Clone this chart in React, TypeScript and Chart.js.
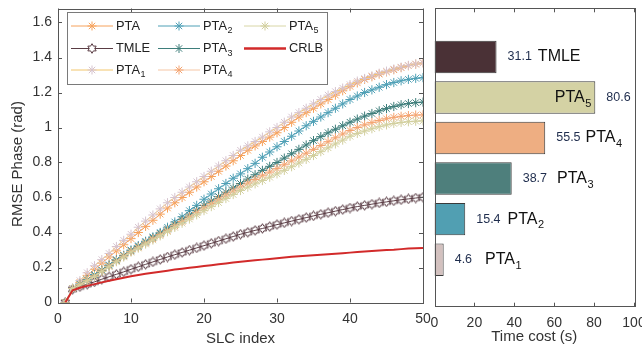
import React, { useEffect, useRef } from 'react';
import { Chart, registerables } from 'chart.js';
Chart.register(...registerables);

const FONT = '"Liberation Sans", Arial, Helvetica, sans-serif';

// ---------- data: left chart ----------
const slcIndex = [1,2,3,4,5,6,7,8,9,10,11,12,13,14,15,16,17,18,19,20,21,22,23,24,25,26,27,28,29,30,31,32,33,34,35,36,37,38,39,40,41,42,43,44,45,46,47,48,49,50];
const pta = [0,0.08,0.115,0.155,0.19,0.225,0.26,0.295,0.33,0.365,0.40,0.435,0.47,0.505,0.54,0.57,0.60,0.63,0.66,0.69,0.72,0.75,0.78,0.81,0.84,0.87,0.895,0.92,0.945,0.97,1.0,1.03,1.06,1.085,1.11,1.135,1.16,1.185,1.21,1.235,1.255,1.275,1.29,1.305,1.318,1.33,1.342,1.353,1.362,1.37];
const tmle = [0,0.075,0.09,0.104,0.118,0.133,0.147,0.161,0.175,0.19,0.204,0.218,0.232,0.246,0.26,0.273,0.286,0.299,0.312,0.325,0.338,0.351,0.364,0.377,0.39,0.401,0.412,0.423,0.434,0.445,0.455,0.465,0.475,0.485,0.495,0.504,0.513,0.522,0.531,0.54,0.548,0.555,0.562,0.569,0.575,0.581,0.587,0.592,0.597,0.602];
const pta1 = [0,0.08,0.125,0.17,0.21,0.245,0.28,0.32,0.355,0.39,0.43,0.465,0.50,0.535,0.57,0.60,0.63,0.66,0.69,0.72,0.75,0.78,0.81,0.84,0.87,0.895,0.92,0.945,0.975,1.0,1.03,1.06,1.085,1.11,1.135,1.16,1.185,1.205,1.225,1.245,1.265,1.28,1.295,1.31,1.322,1.334,1.345,1.355,1.363,1.37];
const pta2 = [0,0.08,0.105,0.13,0.16,0.185,0.215,0.245,0.27,0.30,0.325,0.35,0.375,0.40,0.43,0.46,0.49,0.525,0.555,0.59,0.62,0.65,0.68,0.71,0.735,0.765,0.795,0.83,0.86,0.89,0.92,0.95,0.98,1.01,1.035,1.06,1.085,1.11,1.135,1.16,1.18,1.20,1.215,1.23,1.245,1.257,1.267,1.275,1.281,1.285];
const pta3 = [0,0.08,0.103,0.128,0.155,0.183,0.21,0.24,0.268,0.295,0.32,0.345,0.37,0.395,0.42,0.447,0.473,0.50,0.527,0.555,0.58,0.605,0.63,0.655,0.68,0.705,0.73,0.755,0.778,0.80,0.825,0.85,0.875,0.90,0.925,0.948,0.97,0.99,1.01,1.03,1.048,1.065,1.08,1.095,1.108,1.12,1.13,1.137,1.142,1.145];
const pta4 = [0,0.08,0.102,0.126,0.152,0.18,0.208,0.237,0.265,0.292,0.316,0.34,0.364,0.388,0.413,0.438,0.463,0.489,0.515,0.54,0.565,0.59,0.614,0.637,0.66,0.682,0.703,0.724,0.745,0.765,0.787,0.809,0.831,0.853,0.875,0.897,0.919,0.941,0.963,0.983,1.0,1.015,1.028,1.04,1.05,1.058,1.064,1.068,1.071,1.072];
const pta5 = [0,0.08,0.101,0.124,0.15,0.178,0.205,0.233,0.26,0.288,0.311,0.334,0.357,0.381,0.405,0.429,0.453,0.477,0.501,0.525,0.548,0.571,0.594,0.617,0.64,0.659,0.678,0.697,0.716,0.735,0.755,0.776,0.797,0.818,0.84,0.862,0.884,0.906,0.928,0.95,0.966,0.98,0.993,1.005,1.015,1.023,1.029,1.033,1.036,1.038];
const crlb = [0,0.07,0.084,0.095,0.105,0.115,0.124,0.133,0.142,0.15,0.157,0.164,0.17,0.176,0.182,0.188,0.193,0.198,0.203,0.208,0.213,0.218,0.223,0.228,0.233,0.237,0.241,0.245,0.249,0.253,0.257,0.261,0.264,0.267,0.27,0.273,0.276,0.279,0.282,0.285,0.288,0.291,0.294,0.297,0.3,0.302,0.305,0.308,0.31,0.312];
const seriesLabels = ['PTA', 'TMLE', 'PTA_1', 'PTA_2', 'PTA_3', 'PTA_4', 'PTA_5', 'CRLB'];
const xTicksLeft = [0, 10, 20, 30, 40, 50];
const yTicksLeft = [0, 0.2, 0.4, 0.6, 0.8, 1, 1.2, 1.4, 1.6];

// ---------- data: right chart ----------
const barNames = ['TMLE', 'PTA_5', 'PTA_4', 'PTA_3', 'PTA_2', 'PTA_1'];
const timeCost = [31.1, 80.6, 55.5, 38.7, 15.4, 4.6];
const barPositions = [6, 5, 4, 3, 2, 1];
const xTicksRight = [0, 20, 40, 60, 80, 100];

// ---------- styles ----------
const lineStyles = [
  { line: '#f6a25c', marker: '#f6a25c', pt: 'star', w: 1 },
  { line: '#5a3c44', marker: '#5a3c44', pt: 'hex', w: 1 },
  { line: '#f2c66c', marker: '#d6c3cf', pt: 'star', w: 1 },
  { line: '#4fa0b6', marker: '#4fa0b6', pt: 'star', w: 1 },
  { line: '#3e7e7b', marker: '#3e7e7b', pt: 'star', w: 1 },
  { line: '#f5c6a5', marker: '#f4a370', pt: 'star', w: 1 },
  { line: '#d8d6a6', marker: '#d2cf9e', pt: 'star', w: 1 },
  { line: '#d22a2a', marker: '#d22a2a', pt: 'none', w: 2 },
];
const barColors = ['#4a3136', '#d4d2a4', '#eeae82', '#4e7f7c', '#519fb2', '#d3c1bf'];
const AXIS = '#555555';
const TEXT = '#333333';

function hexagramPath(g: CanvasRenderingContext2D, cx: number, cy: number, r: number) {
  g.beginPath();
  for (let k = 0; k < 12; k++) {
    const a = -Math.PI / 2 + (k * Math.PI) / 6;
    const rr = k % 2 === 0 ? r : r * 0.577;
    const x = cx + rr * Math.cos(a);
    const y = cy + rr * Math.sin(a);
    if (k === 0) g.moveTo(x, y); else g.lineTo(x, y);
  }
  g.closePath();
}
function makeHexagram(color: string) {
  const c = document.createElement('canvas');
  c.width = 11; c.height = 11;
  const g = c.getContext('2d')!;
  g.strokeStyle = color; g.lineWidth = 1;
  hexagramPath(g, 5.5, 5.5, 4.8);
  g.stroke();
  return c;
}
function drawStar(g: CanvasRenderingContext2D, cx: number, cy: number, r: number, color: string) {
  g.save();
  g.strokeStyle = color; g.lineWidth = 1;
  g.beginPath();
  for (let k = 0; k < 4; k++) {
    const a = (k * Math.PI) / 4;
    g.moveTo(cx - r * Math.cos(a), cy - r * Math.sin(a));
    g.lineTo(cx + r * Math.cos(a), cy + r * Math.sin(a));
  }
  g.stroke();
  g.restore();
}
function drawRich(g: CanvasRenderingContext2D, text: string, x: number, y: number, size: number, color: string, align: 'left' | 'right' = 'left') {
  const [base, sub] = text.split('_');
  const subSize = Math.round(size * 0.68);
  g.save();
  g.font = `${size}px ${FONT}`;
  const wb = g.measureText(base).width;
  g.font = `${subSize}px ${FONT}`;
  const ws = sub ? g.measureText(sub).width + 0.5 : 0;
  const total = wb + ws;
  const sx = align === 'right' ? x - total : x;
  g.fillStyle = color; g.textAlign = 'left'; g.textBaseline = 'middle';
  g.font = `${size}px ${FONT}`;
  g.fillText(base, sx, y);
  if (sub) { g.font = `${subSize}px ${FONT}`; g.fillText(sub, sx + wb + 0.5, y + size * 0.38); }
  g.restore();
  return total;
}

function boxPlugin(yTicks: boolean, xTitle: string, xTitleY: number, yTitle?: string, yTitleX?: number, yTitleY?: number) {
  return {
    id: 'box',
    afterDraw(chart: any) {
      const g = chart.ctx as CanvasRenderingContext2D;
      const a = chart.chartArea;
      g.save();
      g.strokeStyle = AXIS; g.lineWidth = 1;
      g.strokeRect(Math.round(a.left) + 0.5, Math.round(a.top) + 0.5, Math.round(a.right - a.left), Math.round(a.bottom - a.top));
      const tl = 4;
      g.beginPath();
      const xs = chart.scales.x;
      xs.ticks.forEach((t: any) => {
        const px = Math.round(xs.getPixelForValue(t.value)) + 0.5;
        g.moveTo(px, a.bottom); g.lineTo(px, a.bottom - tl);
        g.moveTo(px, a.top); g.lineTo(px, a.top + tl);
      });
      if (yTicks) {
        const ys = chart.scales.y;
        ys.ticks.forEach((t: any) => {
          const py = Math.round(ys.getPixelForValue(t.value)) + 0.5;
          g.moveTo(a.left, py); g.lineTo(a.left + tl, py);
          g.moveTo(a.right, py); g.lineTo(a.right - tl, py);
        });
      }
      g.stroke();
      // axis titles
      g.fillStyle = TEXT;
      g.font = `15px ${FONT}`;
      g.textAlign = 'center'; g.textBaseline = 'middle';
      g.fillText(xTitle, (a.left + a.right) / 2, xTitleY);
      if (yTitle) {
        g.translate(yTitleX!, yTitleY!);
        g.rotate(-Math.PI / 2);
        g.fillText(yTitle, 0, 0);
      }
      g.restore();
    },
  };
}

const legendPlugin = {
  id: 'innerLegend',
  afterDraw(chart: any) {
    const g = chart.ctx as CanvasRenderingContext2D;
    g.save();
    g.fillStyle = '#ffffff';
    g.fillRect(67, 12, 260, 72);
    g.strokeStyle = '#7a7a7a'; g.lineWidth = 1;
    g.strokeRect(67.5, 12.5, 260, 72);
    const rows = [26, 48.5, 70];
    const cols = [71, 158, 244];
    seriesLabels.forEach((lab, i) => {
      const st = lineStyles[i];
      const col = Math.floor(i / 3), row = i % 3;
      const y = rows[row];
      const x0 = cols[col], x1 = x0 + 42;
      g.strokeStyle = st.line; g.lineWidth = st.w === 2 ? 2.5 : 1;
      g.beginPath(); g.moveTo(x0, y); g.lineTo(x1, y); g.stroke();
      const cx = (x0 + x1) / 2;
      if (st.pt === 'star') drawStar(g, cx, y, 4.5, st.marker);
      if (st.pt === 'hex') { g.fillStyle = '#fff'; hexagramPath(g, cx, y, 4.8); g.fill(); g.strokeStyle = st.marker; g.lineWidth = 1; g.stroke(); }
      drawRich(g, lab, x1 + 3, y, 12.8, '#222');
    });
    g.restore();
  },
};

const barLabelPlugin = {
  id: 'barLabels',
  afterDatasetsDraw(chart: any) {
    const g = chart.ctx as CanvasRenderingContext2D;
    const meta = chart.getDatasetMeta(0);
    const gaps = [6, 0, 5, 10, 7, 13];
    meta.data.forEach((el: any, i: number) => {
      const val = timeCost[i].toFixed(1);
      const y = el.y;
      g.save();
      g.font = `12.5px ${FONT}`;
      g.fillStyle = '#1f2d4d'; g.textBaseline = 'middle'; g.textAlign = 'left';
      const vx = el.x + 11;
      g.fillText(val, vx, y);
      const vw = g.measureText(val).width;
      g.restore();
      if (i === 1) {
        drawRich(g, barNames[i], el.x - 4, y, 16, '#111', 'right');
      } else {
        drawRich(g, barNames[i], vx + vw + gaps[i], y, 16, '#111');
      }
    });
  },
};

const fmt = (v: any) => String(Number(Number(v).toFixed(2)));

export default function App() {
  const leftRef = useRef<HTMLCanvasElement>(null);
  const rightRef = useRef<HTMLCanvasElement>(null);

  useEffect(() => {
    Chart.defaults.font.family = FONT;
    const hex = makeHexagram(lineStyles[1].marker);
    const datasets = [pta, tmle, pta1, pta2, pta3, pta4, pta5, crlb].map((arr, i) => {
      const st = lineStyles[i];
      return {
        label: seriesLabels[i],
        data: arr.map((v, k) => ({ x: slcIndex[k], y: v })),
        borderColor: st.line,
        backgroundColor: st.marker,
        borderWidth: st.w,
        pointStyle: st.pt === 'hex' ? hex : st.pt === 'star' ? 'star' : false,
        pointRadius: st.pt === 'none' ? 0 : 4.6,
        pointBorderColor: st.marker,
        pointBorderWidth: 1,
        tension: 0,
        order: 8 - i,
      };
    });
    const left = new Chart(leftRef.current!, {
      type: 'line',
      data: { datasets: datasets as any },
      options: {
        animation: false,
        responsive: false,
        events: [],
        layout: { padding: { top: 8.5, right: 9, left: 0, bottom: 0 } },
        plugins: { legend: { display: false }, tooltip: { enabled: false } },
        scales: {
          x: {
            type: 'linear', min: 0, max: 50,
            afterBuildTicks: (s: any) => { s.ticks = xTicksLeft.map((v) => ({ value: v })); },
            ticks: { font: { size: 14 }, color: TEXT, padding: 8, maxRotation: 0, callback: fmt },
            grid: { display: false, drawTicks: false },
            border: { display: false },
            afterFit: (s: any) => { s.height = 44.5; s.paddingLeft = 0; s.paddingRight = 0; },
          },
          y: {
            type: 'linear', min: 0, max: 1.68,
            afterBuildTicks: (s: any) => { s.ticks = yTicksLeft.map((v) => ({ value: v })); },
            ticks: { font: { size: 14 }, color: TEXT, padding: 6, callback: fmt },
            grid: { display: false, drawTicks: false },
            border: { display: false },
            afterFit: (s: any) => { s.width = 58; s.paddingTop = 0; s.paddingBottom = 0; },
          },
        },
      } as any,
      plugins: [boxPlugin(true, 'SLC index', 339, 'RMSE Phase (rad)', 18, 164), legendPlugin],
    });

    const right = new Chart(rightRef.current!, {
      type: 'bar',
      data: {
        datasets: [{
          data: timeCost.map((v, i) => ({ x: v, y: barPositions[i] })),
          backgroundColor: barColors,
          borderColor: '#3a3a3a',
          borderWidth: 1,
          borderSkipped: false,
          barPercentage: 0.8,
          categoryPercentage: 1,
        }] as any,
      },
      options: {
        indexAxis: 'y',
        animation: false,
        responsive: false,
        events: [],
        layout: { padding: { top: 8.3, right: 8, left: 6.5, bottom: 0 } },
        plugins: { legend: { display: false }, tooltip: { enabled: false } },
        scales: {
          x: {
            type: 'linear', min: 0, max: 100,
            afterBuildTicks: (s: any) => { s.ticks = xTicksRight.map((v) => ({ value: v })); },
            ticks: { font: { size: 14 }, color: TEXT, padding: 8, maxRotation: 0 },
            grid: { display: false, drawTicks: false },
            border: { display: false },
            afterFit: (s: any) => { s.height = 40.3; s.paddingLeft = 0; s.paddingRight = 0; },
          },
          y: { type: 'linear', min: -0.16, max: 7.2, display: false, offset: false, grid: { offset: false } },
        },
      } as any,
      plugins: [boxPlugin(false, 'Time cost (s)', 337), barLabelPlugin],
    });

    return () => { left.destroy(); right.destroy(); };
  }, []);

  return (
    <div style={{ position: 'absolute', left: 0, top: 0, width: 642, height: 347, background: '#fff', overflow: 'hidden' }}>
      <canvas ref={leftRef} width={432} height={347} style={{ position: 'absolute', left: 0, top: 0 }} />
      <canvas ref={rightRef} width={214} height={347} style={{ position: 'absolute', left: 428, top: 0 }} />
    </div>
  );
}
